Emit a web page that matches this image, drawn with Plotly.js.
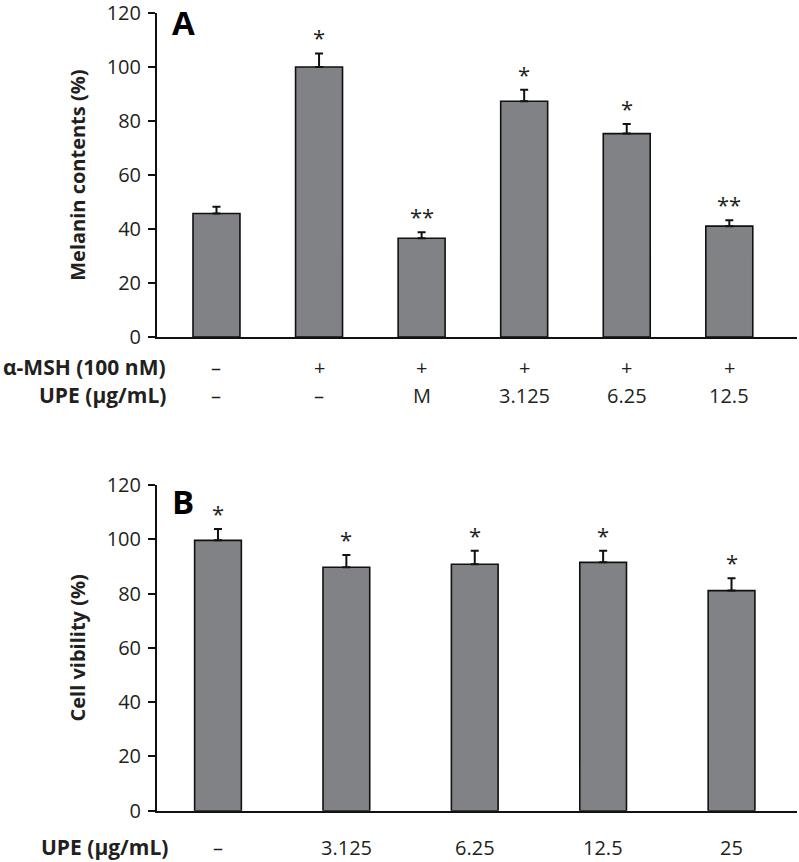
<!DOCTYPE html>
<html>
<head>
<meta charset="utf-8">
<script src="https://cdn.plot.ly/plotly-3.0.1.min.js"></script>
<style>html,body{margin:0;padding:0;background:#fff;}#chart{width:799px;height:862px;}</style>
</head>
<body>
<div id="chart"></div>
<script>
// ---- Panel A data ----
const mshRowA = ['–', '+', '+', '+', '+', '+'];
const upeRowA = ['–', '–', 'M', '3.125', '6.25', '12.5'];
const melanin = [45.8, 100.1, 36.6, 87.4, 75.4, 41.1];
const melaninErr = [2.5, 5.0, 2.2, 4.3, 3.6, 2.2];
const sigA = ['', '*', '**', '*', '*', '**'];

// ---- Panel B data ----
const upeRowB = ['–', '3.125', '6.25', '12.5', '25'];
const viability = [99.6, 89.7, 90.8, 91.5, 81.1];
const viabilityErr = [4.2, 4.5, 5.0, 4.3, 4.5];
const sigB = ['*', '*', '*', '*', '*'];

const yTicks = [0, 20, 40, 60, 80, 100, 120];

const W = 799, H = 862;
const px = v => v / W;
const py = v => 1 - v / H;
const TXT = '#231f20';
const BAR = '#808285';
const FONT = 'Open Sans, Liberation Sans, sans-serif';

const idxA = melanin.map((_, i) => i);
const idxB = viability.map((_, i) => i);

const traces = [
  {
    type: 'bar', x: idxA, y: melanin, xaxis: 'x', yaxis: 'y', width: 0.458,
    marker: {color: BAR, line: {color: '#111', width: 1.6}},
    error_y: {type: 'data', symmetric: false, array: melaninErr, arrayminus: melaninErr.map(() => 0),
              color: '#111', thickness: 2, width: 4},
    hoverinfo: 'y', showlegend: false
  },
  {
    type: 'bar', x: idxB, y: viability, xaxis: 'x2', yaxis: 'y2', width: 0.364,
    marker: {color: BAR, line: {color: '#111', width: 1.6}},
    error_y: {type: 'data', symmetric: false, array: viabilityErr, arrayminus: viabilityErr.map(() => 0),
              color: '#111', thickness: 2, width: 4},
    hoverinfo: 'y', showlegend: false
  }
];

const annotations = [];
// significance marks
sigA.forEach((s, i) => {
  if (!s) return;
  annotations.push({xref: 'x', yref: 'y', x: i, y: melanin[i] + melaninErr[i], text: s, showarrow: false,
    yanchor: 'middle', yshift: 16, font: {family: FONT, size: 22, color: TXT}});
});
sigB.forEach((s, i) => {
  if (!s) return;
  annotations.push({xref: 'x2', yref: 'y2', x: i, y: viability[i] + viabilityErr[i], text: s, showarrow: false,
    yanchor: 'middle', yshift: 16, font: {family: FONT, size: 22, color: TXT}});
});
// row labels panel A
mshRowA.forEach((t, i) => annotations.push({xref: 'x', yref: 'paper', x: i, y: py(367), text: t, showarrow: false,
  yanchor: 'middle', font: {family: FONT, size: 20, color: TXT}}));
upeRowA.forEach((t, i) => annotations.push({xref: 'x', yref: 'paper', x: i, y: py(395), text: t, showarrow: false,
  yanchor: 'middle', font: {family: FONT, size: 20, color: TXT}}));
annotations.push({xref: 'paper', yref: 'paper', x: px(168), y: py(367), xanchor: 'right', yanchor: 'middle',
  text: '<b>α-MSH (100 nM)</b>', showarrow: false, font: {family: FONT, size: 21, color: TXT}});
annotations.push({xref: 'paper', yref: 'paper', x: px(168), y: py(395), xanchor: 'right', yanchor: 'middle',
  text: '<b>UPE (μg/mL)</b>', showarrow: false, font: {family: FONT, size: 21, color: TXT}});
// row labels panel B
upeRowB.forEach((t, i) => annotations.push({xref: 'x2', yref: 'paper', x: i, y: py(847), text: t, showarrow: false,
  yanchor: 'middle', font: {family: FONT, size: 20, color: TXT}}));
annotations.push({xref: 'paper', yref: 'paper', x: px(170), y: py(847), xanchor: 'right', yanchor: 'middle',
  text: '<b>UPE (μg/mL)</b>', showarrow: false, font: {family: FONT, size: 21, color: TXT}});
// panel letters
annotations.push({xref: 'paper', yref: 'paper', x: px(183), y: py(23), xanchor: 'center', yanchor: 'middle',
  text: '<b>A</b>', showarrow: false, font: {family: FONT, size: 33, color: '#000'}});
annotations.push({xref: 'paper', yref: 'paper', x: px(183), y: py(502), xanchor: 'center', yanchor: 'middle',
  text: '<b>B</b>', showarrow: false, font: {family: FONT, size: 33, color: '#000'}});

const yaxisBase = {
  range: [0, 120], tickvals: yTicks, ticktext: yTicks.map(String), ticks: 'outside', ticklen: 7, tickwidth: 2,
  tickcolor: '#111', showline: true, linecolor: '#111', linewidth: 2, showgrid: false, zeroline: false,
  tickfont: {family: FONT, size: 20, color: TXT}, ticklabelstandoff: 3, ticklabeloverflow: 'allow',
  fixedrange: true
};
const xaxisBase = {
  showline: true, linecolor: '#111', linewidth: 2.2, showgrid: false, zeroline: false, ticks: '',
  showticklabels: false, fixedrange: true
};

const layout = {
  width: W, height: H,
  margin: {l: 0, r: 0, t: 0, b: 0},
  paper_bgcolor: '#fff', plot_bgcolor: '#fff',
  showlegend: false,
  xaxis: Object.assign({}, xaxisBase, {domain: [px(157), px(797)], range: [-0.58, 5.66], anchor: 'y'}),
  yaxis: Object.assign({}, yaxisBase, {domain: [py(337), py(13.3)], anchor: 'x',
    title: {text: '<b>Melanin contents (%)</b>', standoff: 16, font: {family: FONT, size: 20, color: TXT}}}),
  xaxis2: Object.assign({}, xaxisBase, {domain: [px(157), px(797)], range: [-0.475, 4.51], anchor: 'y2'}),
  yaxis2: Object.assign({}, yaxisBase, {domain: [py(810.7), py(485)], anchor: 'x2',
    title: {text: '<b>Cell vibility (%)</b>', standoff: 16, font: {family: FONT, size: 20, color: TXT}}}),
  annotations: annotations,
  bargap: 0
};

Plotly.newPlot('chart', traces, layout, {displayModeBar: false, staticPlot: true});
</script>
</body>
</html>
